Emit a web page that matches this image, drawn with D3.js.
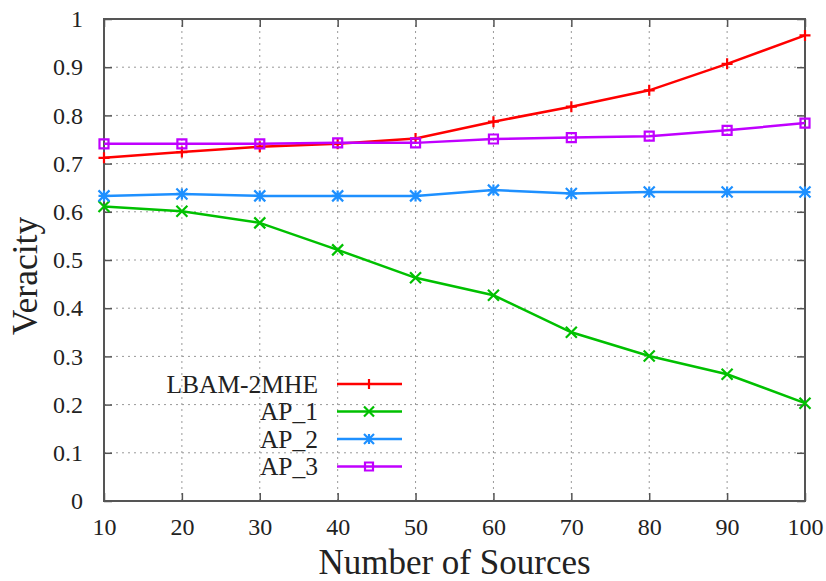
<!DOCTYPE html>
<html>
<head>
<meta charset="utf-8">
<script src="https://cdn.jsdelivr.net/npm/d3@7"></script>
<style>
body { margin: 0; background: #fff; }
text { font-family: "Liberation Serif", "DejaVu Serif", serif; fill: #222; }
</style>
</head>
<body>
<div id="viz_div"></div>
<script>
// number of sources on x
var sources = [10, 20, 30, 40, 50, 60, 70, 80, 90, 100];

var lbam_2mhe = [0.712, 0.724, 0.735, 0.741, 0.752, 0.787, 0.818, 0.852, 0.907, 0.966];
var ap_1 = [0.611, 0.601, 0.577, 0.521, 0.463, 0.427, 0.350, 0.301, 0.263, 0.203];
var ap_2 = [0.633, 0.637, 0.633, 0.633, 0.633, 0.645, 0.638, 0.641, 0.641, 0.641];
var ap_3 = [0.741, 0.741, 0.741, 0.743, 0.743, 0.751, 0.754, 0.757, 0.769, 0.784];

var series_names = ["LBAM-2MHE", "AP_1", "AP_2", "AP_3"];
var series_colors = ["#ff0000", "#00c000", "#1e90ff", "#c000ff"];
var series_marks = ["plus", "cross", "star", "square"];
var series_vals = [lbam_2mhe, ap_1, ap_2, ap_3];

var y_ticks = [0, 0.1, 0.2, 0.3, 0.4, 0.5, 0.6, 0.7, 0.8, 0.9, 1];

var w = 826, h = 581;
var margin = { left: 104, right: 21, top: 19, bottom: 80 };

var x = d3.scaleLinear().domain([10, 100]).range([margin.left, w - margin.right]);
var y = d3.scaleLinear().domain([0, 1]).range([h - margin.bottom, margin.top]);

var svg = d3.select("#viz_div").append("svg")
	.attr("width", w)
	.attr("height", h);

// grid (dotted)
svg.append("g")
	.selectAll("line.gx")
	.data(sources.slice(1, -1))
	.enter().append("line")
	.attr("x1", d => x(d)).attr("x2", d => x(d))
	.attr("y1", y(0)).attr("y2", y(1))
	.attr("stroke", "#999").attr("stroke-width", 1).attr("stroke-dasharray", "2,4");
svg.append("g")
	.selectAll("line.gy")
	.data(y_ticks.slice(1, -1))
	.enter().append("line")
	.attr("x1", x(10)).attr("x2", x(100))
	.attr("y1", d => y(d)).attr("y2", d => y(d))
	.attr("stroke", "#999").attr("stroke-width", 1).attr("stroke-dasharray", "2,4");

// axes: gnuplot style, ticks inward and mirrored
var axis_col = "#555";
var tick_len = 8;
function style_axis(g) {
	g.select(".domain").remove();
	g.selectAll(".tick line").attr("stroke", axis_col).attr("stroke-width", 1.5);
	g.selectAll(".tick text")
		.style("font-family", '"Liberation Serif", serif')
		.style("font-size", "24px")
		.attr("fill", "#222");
}
svg.append("g")
	.attr("transform", "translate(0," + y(0) + ")")
	.call(d3.axisBottom(x).tickValues(sources).tickSizeInner(-tick_len).tickPadding(17))
	.call(style_axis);
svg.append("g")
	.attr("transform", "translate(0," + y(1) + ")")
	.call(d3.axisTop(x).tickValues(sources).tickSizeInner(-tick_len).tickFormat(""))
	.call(style_axis);
svg.append("g")
	.attr("transform", "translate(" + x(10) + ",0)")
	.call(d3.axisLeft(y).tickValues(y_ticks).tickSizeInner(-tick_len).tickPadding(21).tickFormat(d3.format("")))
	.call(style_axis);
svg.append("g")
	.attr("transform", "translate(" + x(100) + ",0)")
	.call(d3.axisRight(y).tickValues(y_ticks).tickSizeInner(-tick_len).tickFormat(""))
	.call(style_axis);

svg.append("rect")
	.attr("x", x(10)).attr("y", y(1))
	.attr("width", x(100) - x(10)).attr("height", y(0) - y(1))
	.attr("fill", "none").attr("stroke", axis_col).attr("stroke-width", 2);

// marker path generator
function mark_path(kind, s) {
	var r = s / 2;
	if (kind == "plus") return "M" + (-r) + ",0H" + r + "M0," + (-r) + "V" + r;
	if (kind == "cross") return "M" + (-r) + "," + (-r) + "L" + r + "," + r + "M" + (-r) + "," + r + "L" + r + "," + (-r);
	if (kind == "star") return "M" + (-r) + ",0H" + r + "M0," + (-r) + "V" + r +
		"M" + (-r) + "," + (-r) + "L" + r + "," + r + "M" + (-r) + "," + r + "L" + r + "," + (-r);
	return "M" + (-r) + "," + (-r) + "H" + r + "V" + r + "H" + (-r) + "Z";
}

var line = d3.line()
	.x(function(d, i) { return x(sources[i]); })
	.y(function(d) { return y(d); });

series_vals.forEach(function(vals, k) {
	var g = svg.append("g");
	g.append("path")
		.datum(vals)
		.attr("d", line)
		.attr("fill", "none")
		.attr("stroke", series_colors[k])
		.attr("stroke-width", 2.5);
	g.selectAll("path.mk")
		.data(vals)
		.enter().append("path")
		.attr("transform", function(d, i) { return "translate(" + x(sources[i]) + "," + y(d) + ")"; })
		.attr("d", mark_path(series_marks[k], series_marks[k] == "square" ? 9 : 11))
		.attr("fill", "none")
		.attr("stroke", series_colors[k])
		.attr("stroke-width", 2.2);
});

// legend
var leg = svg.append("g");
series_names.forEach(function(name, k) {
	var ly = 384 + k * 27.5;
	leg.append("text")
		.attr("x", 318).attr("y", ly)
		.attr("dy", "0.35em")
		.attr("text-anchor", "end")
		.style("font-size", "25.5px")
		.text(name);
	leg.append("line")
		.attr("x1", 337).attr("x2", 402)
		.attr("y1", ly).attr("y2", ly)
		.attr("stroke", series_colors[k]).attr("stroke-width", 2.5);
	leg.append("path")
		.attr("transform", "translate(369," + ly + ")")
		.attr("d", mark_path(series_marks[k], series_marks[k] == "square" ? 8 : 10))
		.attr("fill", "none")
		.attr("stroke", series_colors[k])
		.attr("stroke-width", 2.2);
});

// axis titles
svg.append("text")
	.attr("x", (x(10) + x(100)) / 2).attr("y", 574)
	.attr("text-anchor", "middle")
	.style("font-size", "35px")
	.text("Number of Sources");
svg.append("text")
	.attr("transform", "translate(37,276) rotate(-90)")
	.attr("text-anchor", "middle")
	.style("font-size", "35.5px")
	.text("Veracity");
</script>
</body>
</html>
